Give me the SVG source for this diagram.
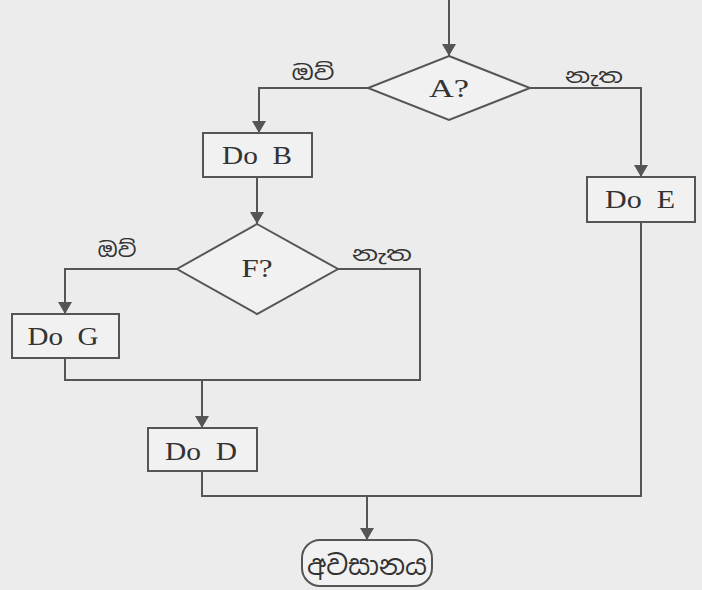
<svg xmlns="http://www.w3.org/2000/svg" width="702" height="590" viewBox="0 0 702 590">
<style>
.shape{fill:#f1f1f1;stroke:#555;stroke-width:2}
.line{fill:none;stroke:#555;stroke-width:2}
.t{font-family:"Liberation Serif","Times New Roman",serif;font-size:25px;fill:#333;text-anchor:middle}
.s{font-family:"Noto Sans Sinhala","Noto Serif Sinhala","Iskoola Pota","Lohit Sinhala",sans-serif;font-size:20px;fill:#333;text-anchor:middle}
</style>
<defs>
<marker id="ah" viewBox="0 0 12 14" refX="12" refY="7" markerWidth="12" markerHeight="14" markerUnits="userSpaceOnUse" orient="auto">
<path d="M0,0 L12,7 L0,14 Z" fill="#555"/>
</marker>
</defs>
<rect width="702" height="590" fill="#ececec"/>
<g id="connectors">
<path class="line" d="M449,0 V56" marker-end="url(#ah)"/>
<path class="line" d="M368,88 H259 V133" marker-end="url(#ah)"/>
<path class="line" d="M530,88 H641 V177" marker-end="url(#ah)"/>
<path class="line" d="M257,177 V224" marker-end="url(#ah)"/>
<path class="line" d="M177,269 H65 V314" marker-end="url(#ah)"/>
<path class="line" d="M338,269 H420 V380 H65 V358"/>
<path class="line" d="M202,380 V428" marker-end="url(#ah)"/>
<path class="line" d="M641,222 V496 H202 V471"/>
<path class="line" d="M367,496 V540" marker-end="url(#ah)"/>
<text class="s" x="313" y="80" textLength="43" lengthAdjust="spacingAndGlyphs">ඔව්</text>
<text class="s" x="594" y="83" textLength="58" lengthAdjust="spacingAndGlyphs">නැත</text>
<text class="s" x="117" y="257" textLength="39" lengthAdjust="spacingAndGlyphs">ඔව්</text>
<text class="s" x="382" y="261" textLength="60" lengthAdjust="spacingAndGlyphs">නැත</text>
</g>
<g id="A">
<polygon class="shape" points="449,56 530,88 449,120 368,88"/>
<text class="t" x="449" y="97" textLength="40" lengthAdjust="spacingAndGlyphs">A?</text>
</g>
<g id="B">
<rect class="shape" x="203" y="133" width="109" height="44"/>
<text class="t" x="257" y="164" textLength="70" lengthAdjust="spacingAndGlyphs" xml:space="preserve">Do  B</text>
</g>
<g id="E">
<rect class="shape" x="587" y="177" width="108" height="45"/>
<text class="t" x="640" y="208" textLength="70" lengthAdjust="spacingAndGlyphs" xml:space="preserve">Do  E</text>
</g>
<g id="F">
<polygon class="shape" points="257,224 338,269 257,314 177,269"/>
<text class="t" x="257" y="277" textLength="31" lengthAdjust="spacingAndGlyphs">F?</text>
</g>
<g id="G">
<rect class="shape" x="12" y="314" width="107" height="44"/>
<text class="t" x="63" y="345" textLength="71" lengthAdjust="spacingAndGlyphs" xml:space="preserve">Do  G</text>
</g>
<g id="D">
<rect class="shape" x="148" y="428" width="109" height="43"/>
<text class="t" x="201" y="460" textLength="72" lengthAdjust="spacingAndGlyphs" xml:space="preserve">Do  D</text>
</g>
<g id="end">
<rect class="shape" x="302" y="540" width="130" height="46" rx="18"/>
<text class="s" x="367" y="575" style="font-size:27px" textLength="120" lengthAdjust="spacingAndGlyphs">අවසානය</text>
</g>
</svg>
